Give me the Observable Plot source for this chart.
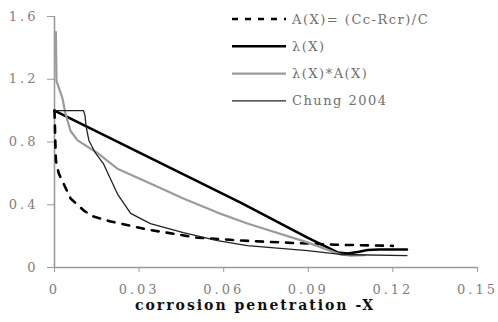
<!DOCTYPE html>
<html>
<head>
<meta charset="utf-8">
<script src="https://cdn.jsdelivr.net/npm/d3@7"></script>
<script src="https://cdn.jsdelivr.net/npm/@observablehq/plot@0.6"></script>
<style>
  html, body { margin: 0; padding: 0; background: #fff; }
  g[aria-label="x-axis tick label"] text, g[aria-label="y-axis tick label"] text { letter-spacing: 3px; }
  g[aria-label="x-axis tick label"], g[aria-label="y-axis tick label"] { fill: #808080; }
  g[aria-label="x-axis tick"], g[aria-label="y-axis tick"] { stroke: #9a9a9a; }
  .xlabel text { letter-spacing: 2px; }
</style>
</head>
<body>
<div id="chart"></div>
<script>
// ---- data ----
const xTicks = [0, 0.03, 0.06, 0.09, 0.12, 0.15];
const yTicks = [0, 0.4, 0.8, 1.2, 1.6];
const xLabel = "corrosion penetration -X";

const seriesNames = ["A(X)= (Cc-Rcr)/C", "λ(X)", "λ(X)*A(X)", "Chung 2004"];

const aX = [0, 0.0003, 0.0005, 0.0015, 0.0028, 0.0057, 0.0104, 0.0138, 0.02, 0.033, 0.0507, 0.066, 0.08, 0.1, 0.12];
const aY = [1.0, 0.8, 0.68, 0.6, 0.55, 0.44, 0.363, 0.325, 0.293, 0.242, 0.19, 0.172, 0.16, 0.145, 0.138];

const lamX = [0, 0.066, 0.0897, 0.1004, 0.104, 0.108, 0.111, 0.115, 0.125];
const lamY = [1.0, 0.414, 0.19, 0.096, 0.089, 0.1, 0.112, 0.115, 0.115];

const laX = [0.0005, 0.0007, 0.0028, 0.0039, 0.0057, 0.0082, 0.0152, 0.0223, 0.034, 0.0457, 0.0578, 0.0684, 0.0897, 0.1014, 0.105, 0.11];
const laY = [1.5, 1.19, 1.08, 0.98, 0.87, 0.81, 0.73, 0.63, 0.535, 0.44, 0.35, 0.28, 0.16, 0.083, 0.076, 0.078];

const chX = [0, 0.0103, 0.0108, 0.0112, 0.0122, 0.0145, 0.0174, 0.0223, 0.027, 0.034, 0.0457, 0.0578, 0.0684, 0.0897, 0.1014, 0.125];
const chY = [1.0, 1.0, 0.97, 0.9, 0.81, 0.73, 0.66, 0.47, 0.345, 0.28, 0.223, 0.172, 0.14, 0.108, 0.083, 0.076];

// ---- styles ----
const styles = [
  {stroke: "#000", strokeWidth: 2.6, dash: "7,8"},
  {stroke: "#000", strokeWidth: 2.6, dash: null},
  {stroke: "#9b9b9b", strokeWidth: 2.2, dash: null},
  {stroke: "#222", strokeWidth: 1.3, dash: null}
];
const seriesData = [[aX, aY], [lamX, lamY], [laX, laY], [chX, chY]];

const lineMarks = seriesData.map(([xs, ys], i) =>
  Plot.line(d3.zip(xs, ys), {
    x: d => d[0], y: d => d[1],
    stroke: styles[i].stroke, strokeWidth: styles[i].strokeWidth,
    strokeDasharray: styles[i].dash, strokeLinejoin: "round"
  })
);

const chart = Plot.plot({
  width: 498,
  height: 322,
  marginLeft: 54,
  marginRight: 21,
  marginTop: 16,
  marginBottom: 55,
  style: {fontFamily: "DejaVu Serif", fontSize: "13px", background: "#fff"},
  x: {domain: [0, 0.15]},
  y: {domain: [0, 1.6]},
  marks: [
    Plot.axisY({ticks: yTicks, tickSize: 7, tickPadding: 9, label: null, tickFormat: d => String(d), stroke: "#9a9a9a", fill: "#808080"}),
    Plot.axisX({ticks: xTicks, tickSize: 5, tickPadding: 12, label: null, tickFormat: d => String(d), stroke: "#9a9a9a", fill: "#808080"}),
    Plot.ruleX([0], {y1: 0, y2: 1.6, stroke: "#9a9a9a", strokeWidth: 1.6}),
    Plot.ruleY([0], {x1: 0, x2: 0.15, stroke: "#9a9a9a", strokeWidth: 1.6}),
    ...lineMarks,
    Plot.text([xLabel], {frameAnchor: "bottom", dy: 42, dx: -11, text: d => d, fontWeight: "bold", fontSize: 14, fill: "#111", className: "xlabel"})
  ]
});

document.getElementById("chart").appendChild(chart);

// ---- legend ----
const svg = d3.select(chart);
const legX0 = 232, legX1 = 286, legTextX = 292, legY0 = 19, legDy = 27.3;
const leg = svg.append("g").attr("font-family", "DejaVu Serif").attr("font-size", 13).attr("text-anchor", "start");
seriesNames.forEach((name, i) => {
  const y = legY0 + i * legDy;
  leg.append("line").attr("x1", legX0).attr("x2", legX1).attr("y1", y).attr("y2", y)
    .attr("stroke", styles[i].stroke).attr("stroke-width", styles[i].strokeWidth)
    .attr("stroke-dasharray", styles[i].dash ? "6,7" : null);
  leg.append("text").attr("x", legTextX).attr("y", y).attr("dy", "0.35em")
    .attr("text-anchor", "start")
    .attr("fill", "#707070").style("letter-spacing", "1.5px").text(name);
});
</script>
</body>
</html>
